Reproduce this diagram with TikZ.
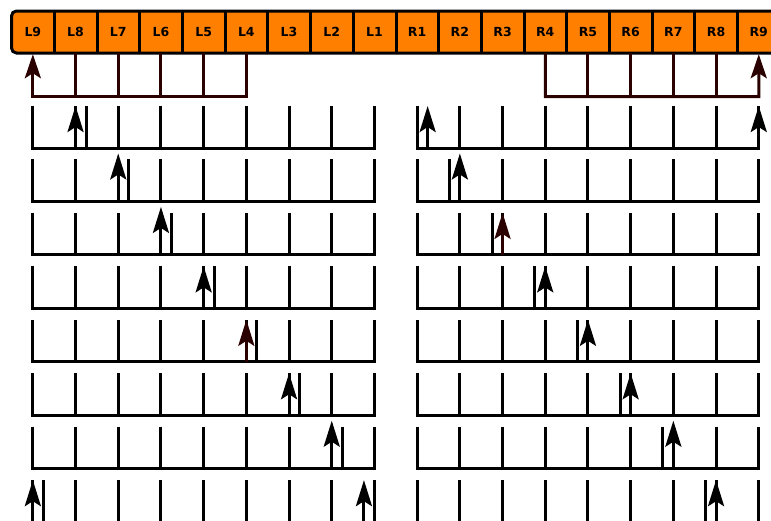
\documentclass[tikz,border=0pt]{standalone}
\usepackage{fontspec}
\setmainfont{DejaVu Sans}
\usetikzlibrary{arrows.meta}
\definecolor{barorange}{HTML}{FF7F00}
\definecolor{darkmaroon}{HTML}{2B0000}
\tikzset{
  comb/.style={draw=black, line width=3pt, line join=miter},
  uparrow/.style={line width=3pt, -{Stealth[length=26pt,width=16pt,inset=5pt]}},
  conn/.style={draw=darkmaroon, line width=3pt, line join=miter},
  connarrow/.style={-{Stealth[length=24pt,width=16pt,inset=5pt]}, shorten >=1pt},
  cell/.style={minimum width=42.7pt, minimum height=42pt, inner sep=0pt, font=\bfseries\fontsize{12.5}{12.5}\selectfont},
  divider/.style={draw=black, line width=3pt}
}
\begin{document}
\begin{tikzpicture}[x=1pt,y=-1pt]
\useasboundingbox (0,0) rectangle (771,520);
\clip (0,0) rectangle (771,520);
% bar
\draw[line width=3pt, fill=barorange, rounded corners=5pt] (11.5,11) rectangle (780.1,53);
\foreach [count=\i from 0] \n in {L9,L8,L7,L6,L5,L4,L3,L2,L1,R1,R2,R3,R4,R5,R6,R7,R8,R9}
  \node[cell] (\n) at ({32.85+42.7*\i},32) {\n};
\foreach \n in {L9,L8,L7,L6,L5,L4,L3,L2,L1,R1,R2,R3,R4,R5,R6,R7,R8}
  \draw[divider] (\n.north east) -- (\n.south east);
% connectors
\coordinate (kL) at (32.85,96.5);
\coordinate (kR) at (758.75,96.5);
\draw[conn,connarrow] (L4.south) |- (kL) -- (L9.south);
\foreach \n in {L8,L7,L6,L5}
  \draw[conn] (\n.south) -- (\n.south |- kL);
\draw[conn,connarrow] (R4.south) |- (kR) -- (R9.south);
\foreach \n in {R5,R6,R7,R8}
  \draw[conn] (\n.south) -- (\n.south |- kR);
% combs
\foreach \r in {0,...,7}{
  \pgfmathsetmacro\t{106+53.45*\r}
  \pgfmathsetmacro\b{148+53.45*\r}
  \draw[comb] (32.85,\t) -- (32.85,\b) -- (374.45,\b) -- (374.45,\t);
  \draw[comb] (417.15,\t) -- (417.15,\b) -- (758.75,\b) -- (758.75,\t);
  \foreach \k in {1,...,7}{
    \draw[comb] ({32.85+42.7*\k},\t) -- ({32.85+42.7*\k},\b);
    \draw[comb] ({417.15+42.7*\k},\t) -- ({417.15+42.7*\k},\b);
  }
}
% extra tines
\foreach \r/\x in {0/86.05,1/128.75,1/449.35,2/171.45,2/492.05,3/214.15,3/534.75,4/256.85,4/577.45,5/299.55,5/620.15,6/342.25,6/662.85,7/43.35,7/705.55}{
  \pgfmathsetmacro\t{106+53.45*\r}
  \pgfmathsetmacro\b{148+53.45*\r}
  \draw[comb] (\x,\t) -- (\x,\b);
}
% arrows
\foreach \r/\x/\o/\c in {0/75.55/0/black,0/427.65/0/black,0/758.75/0/black,
  1/118.25/-6/black,1/459.85/-6/black,
  2/160.95/-6/black,2/502.55/0/darkmaroon,
  3/203.65/0/black,3/545.25/0/black,
  4/246.35/0/darkmaroon,4/587.95/0/black,
  5/289.05/0/black,5/630.65/0/black,
  6/331.75/-6/black,6/673.35/-6/black,
  7/32.85/0/black,7/363.95/0/black,7/716.05/0/black}{
  \pgfmathsetmacro\t{106+53.45*\r+\o}
  \pgfmathsetmacro\b{148+53.45*\r}
  \draw[uparrow,draw=\c,fill=\c] (\x,\b) -- (\x,\t);
}
\end{tikzpicture}
\end{document}
